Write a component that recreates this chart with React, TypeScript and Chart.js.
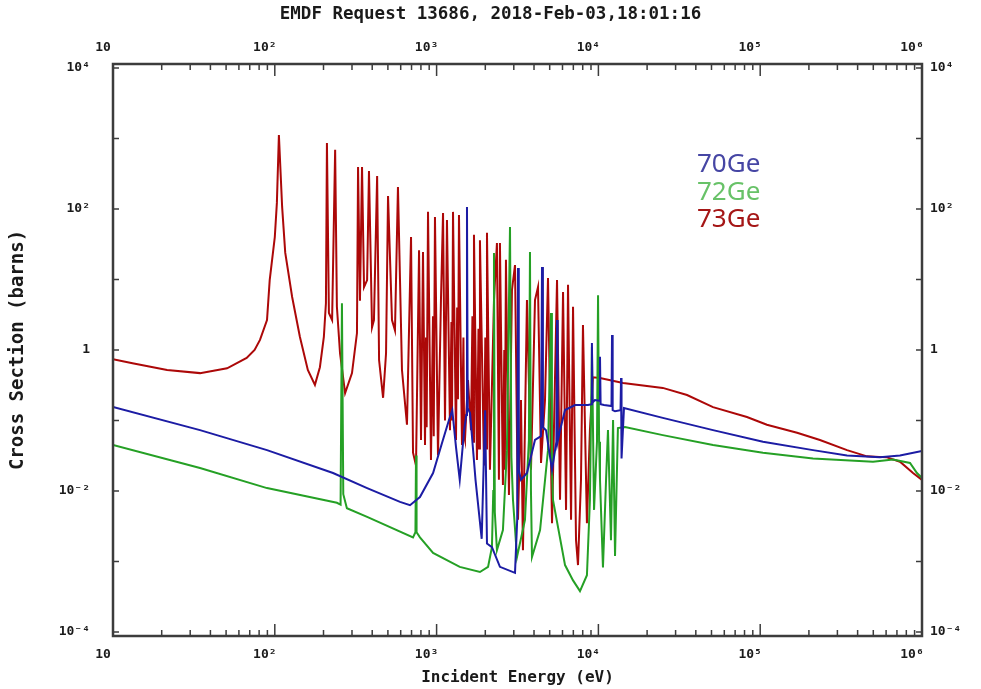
import { useEffect, useRef } from "react";
import { Chart, registerables } from "chart.js";

Chart.register(...registerables);

// ---------- text ----------
const titleText = "EMDF Request 13686, 2018-Feb-03,18:01:16";
const xAxisTitle = "Incident Energy (eV)";
const yAxisTitle = "Cross Section (barns)";

// ---------- ticks ----------
const xMajorTicks = [10, 100, 1000, 10000, 100000, 1000000];
const xTickLabels = ["10", "10²", "10³", "10⁴", "10⁵", "10⁶"];
const xMinorMantissas = [2, 3, 4, 5, 6, 7, 8, 9];
const yDecadeTicks = [1e-4, 1e-3, 1e-2, 1e-1, 1, 10, 100, 1000, 10000];
const yLabelTicks = [1e-4, 1e-2, 1, 100, 10000];
const yTickLabels = ["10⁻⁴", "10⁻²", "1", "10²", "10⁴"];

// ---------- series ----------
const seriesNames = ["70Ge", "72Ge", "73Ge"];
const lineColors = ["#1c1ca4", "#25a025", "#ac0808"];
const legendColors = ["#4646a4", "#68c268", "#a51616"];

// 70Ge (eV, barns)
const ge70Energy = [
  10, 34.5, 89.5, 229, 372, 594, 685, 789, 951, 1080, 1190, 1250, 1318, 1390, 1480, 1525, 1541, 1557, 1610,
  1740, 1900, 1995, 2048, 2198, 2463, 3052, 3150, 3185, 3220, 3323, 3618, 4056, 4420, 4482, 4540, 4744,
  5168, 5500, 5550, 5600, 5792, 6220, 7171, 8616, 9050, 9119, 9200, 9516, 10150, 10230, 10320, 10830,
  12050, 12140, 12250, 12670, 13700, 13800, 13900, 14390, 25000, 51100, 104000, 212000, 344000, 550000,
  731000, 1000000,
];
const ge70Sigma = [
  0.155, 0.073, 0.038, 0.018, 0.011, 0.007, 0.0063, 0.0082, 0.018, 0.048, 0.1, 0.14, 0.042, 0.0144, 0.073,
  0.12, 107, 0.15, 0.128, 0.0144, 0.0021, 0.14, 0.0018, 0.0016, 0.00084, 0.00069, 0.004, 14.6, 0.02, 0.0144,
  0.018, 0.053, 0.06, 15, 0.08, 0.073, 0.02, 0.05, 2.66, 0.05, 0.073, 0.141, 0.166, 0.166, 0.17, 1.26, 0.18,
  0.195, 0.19, 0.8, 0.17, 0.166, 0.16, 1.63, 0.14, 0.135, 0.14, 0.4, 0.029, 0.15, 0.109, 0.073, 0.05, 0.038,
  0.032, 0.03, 0.032, 0.037,
];

// 72Ge (eV, barns)
const ge72Energy = [
  10, 34.5, 89.5, 242, 255, 260, 265, 279, 372, 715, 740, 746, 752, 789, 951, 1390, 1853, 2080, 2198, 2240,
  2263, 2290, 2360, 2570, 2720, 2842, 2900, 2965, 3140, 3517, 3720, 3777, 3830, 3886, 4360, 4881, 5095, 5160,
  5240, 6220, 6970, 7694, 8494, 8864, 9119, 9400, 9800, 9950, 10100, 10230, 10670, 11150, 11460, 11960,
  12320, 12670, 13200, 14600, 25000, 51100, 104000, 212000, 498000, 662000, 843000, 931000, 1000000,
];
const ge72Sigma = [
  0.045, 0.0212, 0.011, 0.0068, 0.0064, 4.6, 0.009, 0.0057, 0.0043, 0.0022, 0.0026, 0.032, 0.0026, 0.0022,
  0.00132, 0.00084, 0.00071, 0.00084, 0.0016, 0.01, 23.8, 0.005, 0.00145, 0.0028, 0.038, 55.6, 0.03, 0.0075,
  0.00116, 0.0039, 0.053, 24.5, 0.01, 0.00116, 0.0028, 0.038, 3.35, 0.02, 0.0075, 0.00089, 0.00054, 0.00038,
  0.00064, 0.0075, 1.1, 0.0054, 0.05, 6.0, 0.05, 0.0144, 0.00082, 0.0144, 0.073, 0.002, 0.102, 0.0012, 0.078,
  0.081, 0.062, 0.045, 0.035, 0.029, 0.026, 0.028, 0.025, 0.018, 0.0153,
];

// 73Ge (eV, barns)
const ge73Energy = [
  10, 13.2, 21.6, 34.5, 50.7, 67, 75, 81, 89.5, 93, 100, 103, 106, 111, 116, 128, 143, 160, 177, 190, 201, 207,
  210, 216, 226, 236, 242, 253, 272, 300, 322, 327, 336, 346, 356, 372, 382, 399, 410, 429, 441, 467, 487,
  501, 530, 553, 577, 611, 656, 695, 715, 746, 779, 801, 824, 848, 860, 868, 885, 923, 950, 960, 977, 1020,
  1064, 1096, 1127, 1159, 1210, 1235, 1245, 1263, 1318, 1340, 1355, 1375, 1435, 1465, 1480, 1497, 1563, 1631,
  1665, 1680, 1702, 1776, 1815, 1830, 1853, 1963, 2000, 2020, 2048, 2137, 2263, 2360, 2428, 2463, 2570, 2620,
  2640, 2683, 2800, 2923, 3052, 3185, 3323, 3418, 3618, 3831, 4056, 4234, 4419, 4677, 4881, 5168, 5550, 5792,
  6046, 6310, 6490, 6776, 6970, 7273, 7480, 7805, 8028, 8494, 8864, 9250, 10230, 14200, 25000, 35300, 51100,
  82800, 110000, 169000, 234000, 344000, 457000, 608000, 731000, 880000, 1000000,
];
const ge73Sigma = [
  0.74, 0.65, 0.52, 0.47, 0.55, 0.77, 1.0, 1.39, 2.66, 9.8, 40, 122, 1120, 107, 24, 5.65, 1.53, 0.52, 0.32, 0.57,
  1.53, 4.6, 860, 3.35, 2.66, 690, 4.1, 0.9, 0.245, 0.47, 1.74, 394, 5, 394, 7.8, 9.8, 346, 2.1, 2.66, 294,
  0.72, 0.21, 0.9, 153, 2.66, 1.9, 205, 0.52, 0.087, 40, 0.035, 0.023, 26, 0.053, 24.5, 0.045, 1.5, 0.08, 91,
  0.0275, 3, 0.06, 77, 0.032, 5.1, 88, 0.1, 70, 0.073, 2.5, 0.1, 91, 0.053, 4, 0.2, 82, 0.045, 1.5, 0.06,
  0.053, 0.375, 0.073, 3, 0.05, 43, 0.0275, 2, 0.04, 36, 0.023, 1.5, 0.04, 46, 0.02, 5.1, 33, 0.0144, 33,
  0.0122, 1, 0.02, 19, 0.0088, 7.1, 16, 0.0039, 0.195, 0.00145, 5.1, 0.02, 5.1, 7.8, 0.025, 0.195, 10.5,
  0.0035, 9.8, 0.0075, 6.65, 0.0054, 8.4, 0.0039, 4.1, 0.002, 0.00089, 0.0144, 2.26, 0.0035, 0.073, 0.41, 0.4,
  0.34, 0.29, 0.23, 0.155, 0.112, 0.087, 0.067, 0.053, 0.038, 0.031, 0.03, 0.026, 0.018, 0.0144,
];

const yMin = 8.78e-5;
const yMax = 11390;

const MONO = "'DejaVu Sans Mono', 'Liberation Mono', monospace";
const textColor = "#1a1a1a";

function toPoints(xs: number[], ys: number[]) {
  return xs.map((x, i) => ({ x, y: ys[i] }));
}

const frameTicksPlugin = {
  id: "frameTicks",
  afterDraw(chart: any) {
    const { ctx, chartArea: a, scales } = chart;
    const xs = scales.x;
    const ys = scales.y;
    ctx.save();
    ctx.strokeStyle = "#3c3c3c";
    ctx.lineWidth = 1.5;
    ctx.beginPath();
    const xTick = (v: number, len: number) => {
      const p = xs.getPixelForValue(v);
      ctx.moveTo(p, a.bottom);
      ctx.lineTo(p, a.bottom - len);
      ctx.moveTo(p, a.top);
      ctx.lineTo(p, a.top + len);
    };
    xMajorTicks.forEach((v) => xTick(v, 12));
    xMajorTicks.slice(0, -1).forEach((d) => xMinorMantissas.forEach((m) => xTick(d * m, 6)));
    yDecadeTicks.forEach((v) => {
      const p = ys.getPixelForValue(v);
      ctx.moveTo(a.left, p);
      ctx.lineTo(a.left + 6, p);
      ctx.moveTo(a.right, p);
      ctx.lineTo(a.right - 6, p);
    });
    ctx.stroke();
    ctx.lineWidth = 2.5;
    ctx.strokeRect(a.left, a.top, a.right - a.left, a.bottom - a.top);

    // legend
    ctx.font = "26px 'Noto Sans', 'Open Sans', sans-serif";
    ctx.textAlign = "left";
    ctx.textBaseline = "alphabetic";
    seriesNames.forEach((name, i) => {
      ctx.fillStyle = legendColors[i];
      ctx.fillText(name, a.left + 584, a.top + 108 + i * 27.5);
    });
    ctx.restore();
  },
};

export default function App() {
  const ref = useRef<HTMLCanvasElement | null>(null);

  useEffect(() => {
    if (!ref.current) return;
    const tickFont = { family: MONO, size: 13, weight: "bold" as const };
    const xTicks = {
      callback: (_v: any, i: number) => xTickLabels[i],
      font: tickFont,
      color: textColor,
      maxRotation: 0,
      autoSkip: false,
      labelOffset: -10,
    };
    const yTicks = {
      callback: (_v: any, i: number) => yTickLabels[i],
      font: tickFont,
      color: textColor,
      autoSkip: false,
    };
    const chart = new Chart(ref.current, {
      type: "line",
      data: {
        datasets: [
          { label: seriesNames[0], data: toPoints(ge70Energy, ge70Sigma), borderColor: lineColors[0] },
          { label: seriesNames[1], data: toPoints(ge72Energy, ge72Sigma), borderColor: lineColors[1] },
          { label: seriesNames[2], data: toPoints(ge73Energy, ge73Sigma), borderColor: lineColors[2] },
        ].map((d) => ({ ...d, borderWidth: 2, pointRadius: 0, tension: 0, fill: false })),
      },
      options: {
        animation: false,
        responsive: false,
        devicePixelRatio: 1,
        layout: { padding: 0 },
        plugins: {
          legend: { display: false },
          tooltip: { enabled: false },
          title: {
            display: true,
            text: titleText,
            color: textColor,
            font: { family: MONO, size: 17.5, weight: "bold", lineHeight: 1.15 },
            padding: { top: 4, bottom: 0 },
          },
        },
        scales: {
          x: {
            type: "logarithmic",
            position: "bottom",
            min: 10,
            max: 1000000,
            afterBuildTicks: (s: any) => {
              s.ticks = xMajorTicks.map((v) => ({ value: v, major: true }));
            },
            afterFit: (s: any) => {
              s.height = 53;
            },
            grid: { display: false, drawTicks: false },
            border: { display: false },
            ticks: { ...xTicks, padding: 11 },
            title: {
              display: true,
              text: xAxisTitle,
              color: textColor,
              font: { family: MONO, size: 16, weight: "bold", lineHeight: 1.2 },
              padding: { top: 0, bottom: 2 },
            },
          },
          x2: {
            type: "logarithmic",
            position: "top",
            min: 10,
            max: 1000000,
            afterBuildTicks: (s: any) => {
              s.ticks = xMajorTicks.map((v) => ({ value: v, major: true }));
            },
            afterFit: (s: any) => {
              s.height = 64 - 24.125;
            },
            grid: { display: false, drawTicks: false },
            border: { display: false },
            ticks: { ...xTicks, padding: 9 },
          },
          y: {
            type: "logarithmic",
            position: "left",
            min: yMin,
            max: yMax,
            afterBuildTicks: (s: any) => {
              s.ticks = yLabelTicks.map((v) => ({ value: v, major: true }));
            },
            afterFit: (s: any) => {
              s.width = 113;
            },
            grid: { display: false, drawTicks: false },
            border: { display: false },
            ticks: { ...yTicks, padding: 23 },
            title: {
              display: true,
              text: yAxisTitle,
              color: textColor,
              font: { family: MONO, size: 19, weight: "bold", lineHeight: 1.2 },
              padding: { top: 7, bottom: 0 },
            },
          },
          y2: {
            type: "logarithmic",
            position: "right",
            min: yMin,
            max: yMax,
            afterBuildTicks: (s: any) => {
              s.ticks = yLabelTicks.map((v) => ({ value: v, major: true }));
            },
            afterFit: (s: any) => {
              s.width = 59;
            },
            grid: { display: false, drawTicks: false },
            border: { display: false },
            ticks: { ...yTicks, padding: 8 },
          },
        },
      } as any,
      plugins: [frameTicksPlugin],
    });
    return () => chart.destroy();
  }, []);

  return (
    <div style={{ position: "fixed", left: 0, top: 0, width: 981, height: 689, background: "#fff" }}>
      <canvas ref={ref} width={981} height={689} style={{ display: "block" }} />
    </div>
  );
}
